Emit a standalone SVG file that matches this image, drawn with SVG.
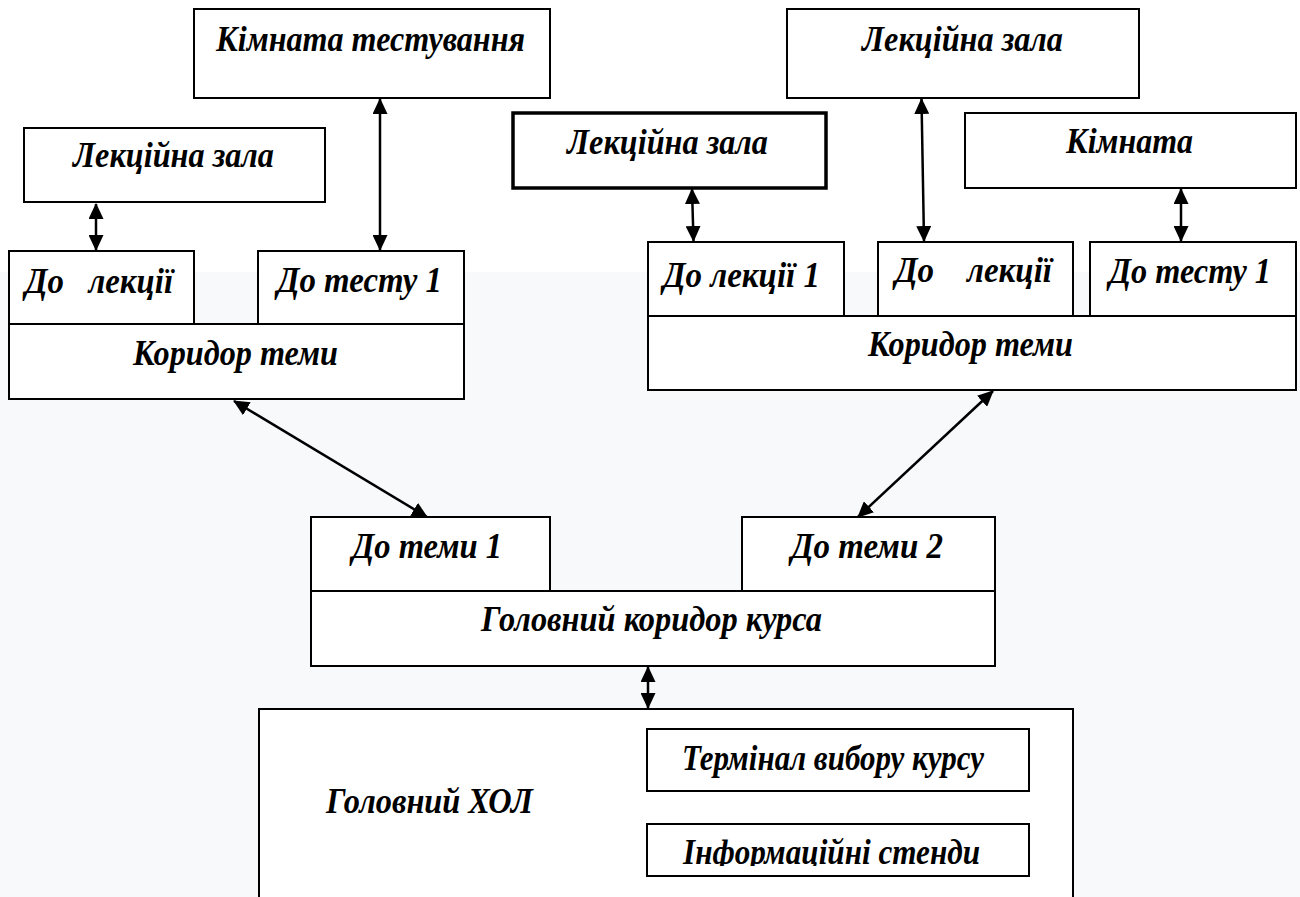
<svg xmlns="http://www.w3.org/2000/svg" width="1300" height="897" viewBox="0 0 1300 897">
<defs>
<style>
.b{fill:#fff;stroke:#000;stroke-width:2}
.bb{fill:#fff;stroke:#000;stroke-width:3.5}
.t{font-family:"Liberation Serif","Times New Roman",serif;font-weight:bold;font-style:italic;font-size:35px;fill:#000;white-space:pre}
.c{stroke:#000;stroke-width:2.5;fill:none;marker-start:url(#ah);marker-end:url(#ah)}
</style>
<marker id="ah" markerUnits="userSpaceOnUse" markerWidth="16" markerHeight="15" refX="15" refY="7.5" orient="auto-start-reverse" viewBox="0 0 16 15">
<path d="M0,0 L16,7.5 L0,15 z" fill="#000"/>
</marker>
<clipPath id="clipInfo"><rect x="640" y="820" width="400" height="46"/></clipPath>
</defs>
<rect x="0" y="0" width="1300" height="897" fill="#fff"/>
<rect x="0" y="272" width="1300" height="625" fill="#f8f9fa"/>

<g id="room-test">
<rect class="b" x="194" y="9" width="356" height="89"/>
<text class="t" x="216" y="51" textLength="309" lengthAdjust="spacingAndGlyphs">Кімната тестування</text>
</g>
<g id="lecture-left">
<rect class="b" x="24" y="128" width="301" height="74"/>
<text class="t" x="73" y="167" textLength="201" lengthAdjust="spacingAndGlyphs">Лекційна зала</text>
</g>
<g id="corridor-left">
<rect class="b" x="9" y="324" width="455" height="75"/>
<text class="t" x="133" y="365" textLength="205" lengthAdjust="spacingAndGlyphs">Коридор теми</text>
</g>
<g id="to-lecture-left">
<rect class="b" x="9" y="251" width="185" height="73"/>
<text class="t" x="25" y="293" textLength="148" lengthAdjust="spacingAndGlyphs" xml:space="preserve">До   лекції</text>
</g>
<g id="to-test-left">
<rect class="b" x="258" y="251" width="206" height="73"/>
<text class="t" x="277" y="292" textLength="165" lengthAdjust="spacingAndGlyphs">До тесту 1</text>
</g>

<g id="lecture-bold">
<rect class="bb" x="513" y="113" width="313" height="75"/>
<text class="t" x="567" y="154" textLength="201" lengthAdjust="spacingAndGlyphs">Лекційна зала</text>
</g>
<g id="lecture-top-right">
<rect class="b" x="787" y="9" width="352" height="89"/>
<text class="t" x="862" y="51" textLength="201" lengthAdjust="spacingAndGlyphs">Лекційна зала</text>
</g>
<g id="room-right">
<rect class="b" x="965" y="113" width="331" height="75"/>
<text class="t" x="1066" y="153" textLength="127" lengthAdjust="spacingAndGlyphs">Кімната</text>
</g>
<g id="corridor-right">
<rect class="b" x="648" y="316" width="648" height="74"/>
<text class="t" x="868" y="356" textLength="205" lengthAdjust="spacingAndGlyphs">Коридор теми</text>
</g>
<g id="to-lecture-1">
<rect class="b" x="648" y="242" width="196" height="74"/>
<text class="t" x="663" y="287" textLength="157" lengthAdjust="spacingAndGlyphs">До лекції 1</text>
</g>
<g id="to-lecture-right">
<rect class="b" x="878" y="242" width="195" height="74"/>
<text class="t" x="895" y="282" textLength="157" lengthAdjust="spacingAndGlyphs" xml:space="preserve">До    лекції</text>
</g>
<g id="to-test-right">
<rect class="b" x="1090" y="242" width="206" height="74"/>
<text class="t" x="1109" y="283" textLength="162" lengthAdjust="spacingAndGlyphs">До тесту 1</text>
</g>

<g id="main-corridor">
<rect class="b" x="311" y="591" width="684" height="75"/>
<text class="t" x="481" y="631" textLength="341" lengthAdjust="spacingAndGlyphs">Головний коридор курса</text>
</g>
<g id="to-topic-1">
<rect class="b" x="311" y="517" width="239" height="74"/>
<text class="t" x="352" y="558" textLength="150" lengthAdjust="spacingAndGlyphs">До теми 1</text>
</g>
<g id="to-topic-2">
<rect class="b" x="742" y="517" width="253" height="74"/>
<text class="t" x="791" y="558" textLength="152" lengthAdjust="spacingAndGlyphs">До теми 2</text>
</g>

<g id="main-hall">
<rect class="b" x="259" y="709" width="814" height="250"/>
<text class="t" x="326" y="813" textLength="207" lengthAdjust="spacingAndGlyphs">Головний ХОЛ</text>
</g>
<g id="terminal">
<rect class="b" x="647" y="729" width="382" height="62"/>
<text class="t" x="682" y="770" textLength="302" lengthAdjust="spacingAndGlyphs">Термінал вибору курсу</text>
</g>
<g id="info-stands">
<rect class="b" x="647" y="824" width="382" height="52"/>
<text class="t" x="683" y="864" textLength="297" lengthAdjust="spacingAndGlyphs" clip-path="url(#clipInfo)">Інформаційні стенди</text>
</g>

<g id="connectors">
<line class="c" x1="96" y1="204" x2="96" y2="250"/>
<line class="c" x1="380" y1="99" x2="380" y2="250"/>
<line class="c" x1="692" y1="189" x2="693.5" y2="241"/>
<line class="c" x1="921.5" y1="99" x2="924" y2="241"/>
<line class="c" x1="1181" y1="189" x2="1181" y2="241"/>
<line class="c" x1="234" y1="401" x2="427" y2="517"/>
<line class="c" x1="993" y1="391" x2="858" y2="517"/>
<line class="c" x1="648" y1="667" x2="648" y2="708"/>
</g>
</svg>
